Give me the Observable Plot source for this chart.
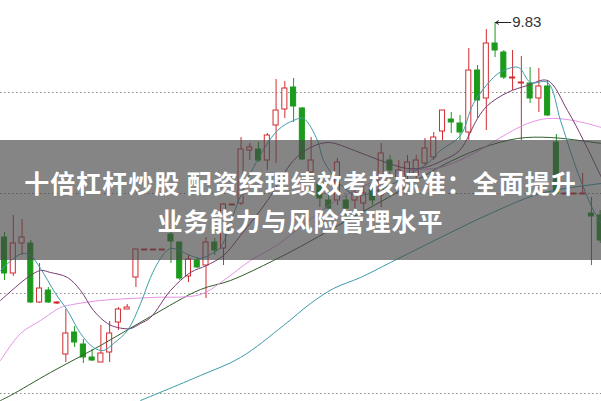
<!DOCTYPE html>
<html><head><meta charset="utf-8">
<script src="https://cdn.jsdelivr.net/npm/d3@7"></script>
<script src="https://cdn.jsdelivr.net/npm/@observablehq/plot@0.6"></script>
<style>
html,body{margin:0;padding:0;background:#fff;}
#wrap{position:relative;width:601px;height:401px;overflow:hidden;}
#banner{position:absolute;left:0;top:140px;width:601px;height:120px;background:rgba(70,70,70,0.66);}
.t{position:absolute;left:0;width:601px;text-align:center;color:#fff;font-family:"Noto Sans CJK SC","Noto Sans",sans-serif;font-weight:700;font-size:25px;line-height:30px;white-space:nowrap;letter-spacing:1px;}
</style></head><body>
<div id="wrap"><div id="chart"></div>
<div id="banner"><div class="t" style="top:27px">十倍杠杆炒股 配资经理绩效考核标准：全面提升</div><div class="t" style="top:65px">业务能力与风险管理水平</div></div></div>
<script>
// candle values (price)
const opens  = [8.755,8.575,8.725,8.725,8.43,8.49,8.425,8.17,8.28,8.22,8.155,8.13,8.18,8.33,8.395,8.555,8.69,8.69,8.69,8.77,8.73,8.56,8.64,8.615,8.73,8.70,8.915,8.925,9.19,9.195,9.14,9.315,9.395,9.505,9.40,9.08,9.025,8.94,8.94,8.94,8.94,8.925,9.01,8.965,9.14,9.05,9.065,9.065,9.125,9.155,9.285,9.345,9.325,9.28,9.59,9.45,9.725,9.68,9.55,9.525,9.525,9.45,9.51,9.23,8.97,8.97,8.97,8.875,8.865];
const closes = [8.575,8.725,8.755,8.43,8.50,8.43,8.43,8.275,8.23,8.155,8.14,8.175,8.275,8.395,8.405,8.695,8.695,8.695,8.695,8.735,8.55,8.645,8.605,8.73,8.69,8.92,8.92,9.195,9.205,9.14,9.265,9.39,9.50,9.41,9.145,9.14,8.95,8.90,9.13,8.90,8.975,8.975,8.94,9.175,9.09,9.09,9.13,9.14,9.20,9.255,9.39,9.33,9.28,9.59,9.44,9.725,9.69,9.555,9.555,9.53,9.45,9.51,9.365,8.975,8.975,8.975,8.975,8.86,8.74];
const highs  = [8.78,8.865,8.845,8.74,8.625,8.505,8.435,8.395,8.31,8.245,8.195,8.315,8.335,8.405,8.42,8.695,8.695,8.695,8.695,8.78,8.73,8.665,8.655,8.755,8.75,8.925,8.92,9.255,9.225,9.23,9.275,9.545,9.535,9.55,9.405,9.255,9.065,8.975,9.15,8.965,8.99,9.015,9.04,9.225,9.165,9.14,9.165,9.165,9.25,9.28,9.39,9.38,9.365,9.70,9.615,9.795,9.83,9.69,9.69,9.66,9.605,9.60,9.54,9.27,8.975,8.975,9.075,8.955,8.89];
const lows   = [8.54,8.56,8.665,8.425,8.425,8.425,8.42,8.13,8.205,8.125,8.135,8.13,8.13,8.29,8.395,8.505,8.69,8.69,8.69,8.625,8.54,8.53,8.60,8.45,8.665,8.615,8.915,8.915,9.14,9.13,9.09,9.125,9.35,9.33,9.14,9.065,8.905,8.875,8.915,8.775,8.90,8.88,8.915,8.905,9.065,9.015,9.04,9.05,9.11,9.14,9.24,9.275,9.24,9.24,9.35,9.29,9.655,9.545,9.49,9.24,9.425,9.38,9.36,8.965,8.97,8.97,8.97,8.615,8.725];

// moving averages (candle index, price)
const ma5X  = [-0.46,1.03,2.05,2.97,4.11,5.82,7.19,8.68,10.16,11.3,12.44,14.04,15.53,16.67,17.81,18.95,21.23,22.37,23.86,24.66,26.6,28.42,31.16,32.99,34.13,35.73,36.42,38.7,40.3,42.58,44.41,46.35,48.29,49.77,52.05,53.54,55.82,56.96,58.68,60.05,61.99,63.47,64.95,66.1,67.24,68.15];
const ma5V  = [8.59,8.65,8.675,8.665,8.60,8.475,8.39,8.275,8.205,8.19,8.225,8.29,8.425,8.555,8.65,8.70,8.665,8.65,8.68,8.705,8.925,9.105,9.29,9.34,9.35,9.24,9.14,9.005,8.965,8.99,9.025,9.075,9.125,9.19,9.265,9.425,9.555,9.59,9.605,9.53,9.53,9.34,9.14,9.005,8.89,8.825];
const ma10X = [-0.46,2.63,4.11,5.25,7.19,8.68,10.16,11.76,12.9,14.38,15.53,16.67,18.95,21.23,23.06,25,26.94,30.02,32.99,34.93,36.99,39.95,42.92,46,47.95,50,51.94,54,55.14,57.42,59.7,61.99,64.27,66.1,68.15];
const ma10V = [8.44,8.555,8.59,8.58,8.555,8.49,8.39,8.325,8.305,8.30,8.325,8.355,8.49,8.58,8.615,8.665,8.765,8.94,9.14,9.205,9.23,9.19,9.14,9.10,9.105,9.14,9.19,9.35,9.415,9.48,9.515,9.54,9.39,9.24,9.055];
const ma20X = [-0.46,1.83,4.11,6.39,7.19,10.96,16.67,22.37,25,28.08,31.05,34.02,36.99,39.95,43.04,46,49.77,53.54,57.42,59.7,61.99,64.95,68.15];
const ma20V = [8.14,8.275,8.34,8.405,8.415,8.44,8.455,8.47,8.54,8.64,8.715,8.815,8.915,8.99,9.05,9.09,9.105,9.175,9.275,9.325,9.35,9.34,9.305];
const ma30X = [-0.46,0.68,5.25,10.96,16.67,22.37,25.8,30.71,33.79,39.5,45.2,49.77,54.34,58.56,62.33,68.15];
const ma30V = [7.94,7.965,8.08,8.215,8.36,8.495,8.54,8.64,8.71,8.85,8.99,9.11,9.20,9.25,9.255,9.225];
const ma60X = [15.53,22.37,26.94,31.85,34.93,37.56,40.64,44.06,49.77,55.48,61.19,68.15];
const ma60V = [7.94,8.065,8.155,8.315,8.425,8.50,8.555,8.63,8.755,8.875,8.975,9.025];

const gridVals = [9.48, 8.975, 8.475, 7.975];
const peakIndex = 56, peakValue = 9.83, peakLabel = "9.83";

const RED = "#d22a30", GREEN = "#1c9a1c";
const candles = opens.map((o, i) => ({i, o, c: closes[i], h: highs[i], l: lows[i], up: closes[i] >= o}));
const mk = (xs, vs) => xs.map((x, k) => ({x, v: vs[k]}));
const lines = [
  {d: mk(ma60X, ma60V), stroke: "#3d9aaa"},
  {d: mk(ma30X, ma30V), stroke: "#2f5e2a"},
  {d: mk(ma20X, ma20V), stroke: "#e592e5"},
  {d: mk(ma10X, ma10V), stroke: "#7a3a70"},
  {d: mk(ma5X, ma5V), stroke: "#3f9cae"}
];
const annot = [{i: peakIndex, v: peakValue, label: peakLabel}];

const chart = Plot.plot({
  width: 601, height: 401,
  marginTop: 0, marginRight: 0, marginBottom: 0, marginLeft: 0,
  x: {domain: [-0.46, 68.15], axis: null},
  y: {domain: [7.935, 9.94], axis: null},
  color: {type: "identity"},
  style: {background: "#fff", overflow: "visible"},
  marks: [
    Plot.ruleY(gridVals, {stroke: "#8a8a8a", strokeDasharray: "1.5,2.5", strokeWidth: 1}),
    Plot.ruleX(candles, {x: "i", y1: "l", y2: "h", stroke: d => d.up ? RED : GREEN, strokeWidth: 1}),
    Plot.rect(candles, {x1: d => d.i - 0.29, x2: d => d.i + 0.29, y1: "o", y2: "c",
      fill: d => d.up ? "#ffffff" : GREEN, stroke: d => d.up ? RED : GREEN, strokeWidth: 1}),
    ...lines.map(L => Plot.line(L.d, {x: "x", y: "v", stroke: L.stroke, strokeWidth: 1, curve: "catmull-rom"})),
    Plot.arrow(annot, {x1: d => d.i + 1.8, x2: d => d.i + 0.05, y1: "v", y2: "v", stroke: "#222", strokeWidth: 1, headLength: 5}),
    Plot.text(annot, {x: d => d.i + 1.95, y: "v", text: "label", textAnchor: "start", fontSize: 15, fill: "#333", fontFamily: "Liberation Sans, Arial, sans-serif"})
  ]
});
document.getElementById("chart").appendChild(chart);
</script>
</body></html>
